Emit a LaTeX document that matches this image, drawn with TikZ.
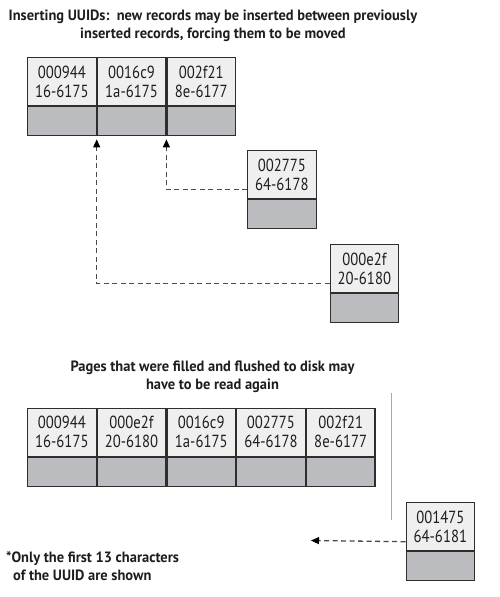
\documentclass[tikz,border=0pt]{standalone}
\usepackage{fontspec}
\setmainfont{PT Sans}[FakeStretch=0.84]
\newfontfamily\headfont{PT Sans}[FakeStretch=0.97]
\usetikzlibrary{arrows.meta,backgrounds}
\definecolor{cellhi}{HTML}{EFEFEF}
\definecolor{celllo}{HTML}{BBBCBF}
\definecolor{edge}{HTML}{2E2E2E}
\definecolor{dashc}{HTML}{4A4A4A}
\definecolor{shade}{HTML}{C4C4C4}
\definecolor{sepc}{HTML}{AAAAAA}
\definecolor{inkc}{HTML}{1E1E1E}
\tikzset{
  hi/.style={draw=edge, line width=1.2pt, fill=cellhi, minimum width=68.5pt,
    minimum height=48pt, inner sep=0pt, anchor=north west, align=center,
    text=inkc, font=\fontsize{17.5}{19}\selectfont},
  lo/.style={draw=edge, line width=1.2pt, fill=celllo, minimum width=68.5pt,
    minimum height=29pt, inner sep=0pt, anchor=north west},
  link/.style={draw=dashc, line width=1.3pt, dash pattern=on 5pt off 3.5pt,
    -{Triangle[length=8pt,width=7pt,color=black]}},
  heading/.style={font=\headfont\bfseries\fontsize{14.9}{18.5}\selectfont, align=center, text=inkc},
  note/.style={font=\headfont\bfseries\fontsize{14.9}{18}\selectfont, align=left, text=inkc, anchor=north west, inner sep=0pt}
}
\newcommand{\boxshade}[2]{%
  \fill[shade!55] ([shift={(4.5,5.5)}]#1) rectangle ([shift={(9.5,10.5)}]#2);
  \fill[shade] ([shift={(6.5,7.5)}]#1) rectangle ([shift={(7.5,8.5)}]#2);
}
\begin{document}
\begin{tikzpicture}[x=1pt,y=-1pt]
\useasboundingbox[fill=white] (0,0) rectangle (500,597);

% titles
\node[heading] (t1) at (213,26) {Inserting UUIDs:\ \ new records may be inserted between previously\\inserted records, forcing them to be moved};
\node[heading] (t2) at (212.5,377) {Pages that were filled and flushed to disk may\\have to be read again};
\node[note] (fn) at (6,551) {*Only the first 13 characters\\\hspace{7pt}of the UUID are shown};

% top row
\node[hi] (r1a) at (27,57) {000944\\16-6175};
\node[hi] (r1b) at (r1a.north east) {0016c9\\1a-6175};
\node[hi] (r1c) at (r1b.north east) {002f21\\8e-6177};
\node[lo] (r1al) at (r1a.south west) {};
\node[lo] (r1bl) at (r1b.south west) {};
\node[lo] (r1cl) at (r1c.south west) {};

% single records
\node[hi] (b1) at (247,150) {002775\\64-6178};
\node[lo] (b1l) at (b1.south west) {};
\node[hi] (b2) at (329.5,244) {000e2f\\20-6180};
\node[lo] (b2l) at (b2.south west) {};

% bottom row
\node[hi] (r2a) at (27,407.5) {000944\\16-6175};
\node[hi] (r2b) at (r2a.north east) {000e2f\\20-6180};
\node[hi] (r2c) at (r2b.north east) {0016c9\\1a-6175};
\node[hi] (r2d) at (r2c.north east) {002775\\64-6178};
\node[hi] (r2e) at (r2d.north east) {002f21\\8e-6177};
\node[lo] (r2al) at (r2a.south west) {};
\node[lo] (r2bl) at (r2b.south west) {};
\node[lo] (r2cl) at (r2c.south west) {};
\node[lo] (r2dl) at (r2d.south west) {};
\node[lo] (r2el) at (r2e.south west) {};

\node[hi] (b3) at (405.5,502) {001475\\64-6181};
\node[lo] (b3l) at (b3.south west) {};

% shadows
\begin{scope}[on background layer]
  \boxshade{r1a.north west}{r1cl.south east}
  \boxshade{b1.north west}{b1l.south east}
  \boxshade{b2.north west}{b2l.south east}
  \boxshade{r2a.north west}{r2el.south east}
  \boxshade{b3.north west}{b3l.south east}
\end{scope}

% separator
\draw[sepc, line width=1pt] (391,393) -- (391,520);

% connectors
\coordinate (freeend) at (311,540.5);
\draw[link, shorten >=3pt] ([yshift=9.5pt]b1.south west) -| (r1cl.south west);
\draw[link, shorten >=3pt] ([yshift=9.5pt]b2.south west) -| (r1bl.south west);
\draw[link] ([yshift=9.5pt]b3.south west) -- (freeend);
\end{tikzpicture}
\end{document}
